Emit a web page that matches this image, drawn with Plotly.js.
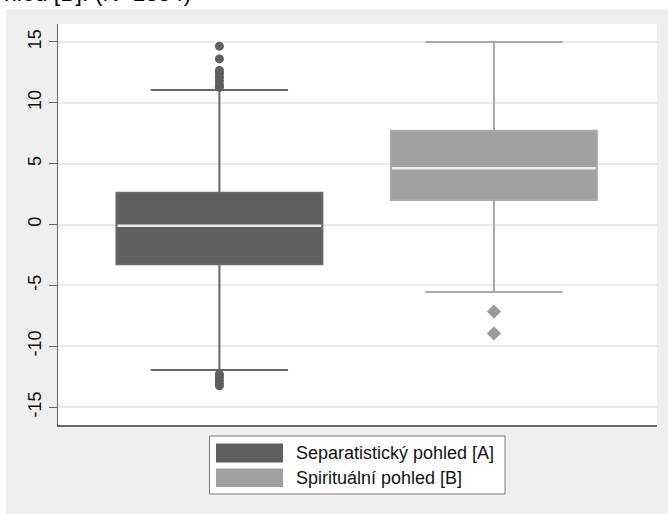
<!DOCTYPE html>
<html>
<head>
<meta charset="utf-8">
<script src="https://cdn.plot.ly/plotly-3.0.1.min.js"></script>
<style>
  html, body { margin: 0; padding: 0; background: #ffffff; width: 668px; height: 514px; overflow: hidden; }
  #bg { position: absolute; left: 6px; top: 9px; right: 0; bottom: 0; background: #efefef; }
  #chart { position: absolute; left: 0; top: 0; width: 668px; height: 514px; }
</style>
</head>
<body>
<div id="bg"></div>
<div id="chart"></div>
<script>
// ---- data ----
const categories = ['Separatistický pohled [A]', 'Spirituální pohled [B]'];
const positions = [0, 1];
const q1 = [-3.27, 2.01];
const median = [-0.10, 4.62];
const q3 = [2.61, 7.71];
const lowerWhisker = [-11.96, -5.55];
const upperWhisker = [11.05, 15.0];
const outliersA = [14.65, 13.6, 12.65, 12.4, 12.1, 11.8, 11.5, 11.27, -12.3, -12.55, -12.8, -13.05, -13.25];
const outliersB = [-7.15, -8.95];
const yTicks = [-15, -10, -5, 0, 5, 10, 15];
const titleFragment = 'hled [B]. (N=1854)';

// ---- styles ----
const fills = ['#5f5f5f', '#a0a0a0'];
const lines = ['#686868', '#a8a8a8'];
const markerColors = ['#5f5f5f', '#9a9a9a'];
const markerSymbols = ['circle', 'diamond'];
const markerSizes = [9, 11];
const boxWidth = 0.75;
const FONT = '"Liberation Sans", Arial, sans-serif';

const outliers = [outliersA, outliersB];
const traces = [];
categories.forEach((name, i) => {
  traces.push({
    type: 'box',
    name: name,
    x: [positions[i]],
    q1: [q1[i]], median: [median[i]], q3: [q3[i]],
    lowerfence: [lowerWhisker[i]], upperfence: [upperWhisker[i]],
    boxpoints: false,
    width: boxWidth,
    whiskerwidth: 0.667,
    fillcolor: fills[i],
    line: { color: lines[i], width: 2 },
    showlegend: false,
    hoverinfo: 'skip'
  });
});
categories.forEach((name, i) => {
  // median line in light colour, as in the original
  traces.push({
    type: 'scatter', mode: 'lines',
    x: [positions[i] - boxWidth / 2 + 0.004, positions[i] + boxWidth / 2 - 0.004],
    y: [median[i], median[i]],
    line: { color: '#eeeeee', width: 2.5 },
    showlegend: false, hoverinfo: 'skip'
  });
  traces.push({
    type: 'scatter', mode: 'markers',
    x: outliers[i].map(() => positions[i]),
    y: outliers[i],
    marker: { symbol: markerSymbols[i], size: markerSizes[i], color: markerColors[i], line: { width: 0 } },
    showlegend: false, hoverinfo: 'skip'
  });
});

// ---- custom legend (Stata style) ----
const L = 58, R = 657, T = 24, B = 425;
const px = v => (v - L) / (R - L);
const py = v => (B - v) / (B - T);
const shapes = [
  { type: 'rect', xref: 'paper', yref: 'paper', x0: px(209.5), x1: px(505), y0: py(436), y1: py(494),
    fillcolor: '#ffffff', line: { color: '#7a7a7a', width: 1 } }
];
const annotations = [
  { xref: 'paper', yref: 'paper', x: px(2), y: py(8), xanchor: 'left', yanchor: 'bottom',
    text: titleFragment, showarrow: false, font: { family: FONT, size: 23, color: '#000' } }
];
const swatchY = [[443.5, 462.5], [468.5, 487]];
const textY = [453, 478];
categories.forEach((name, i) => {
  shapes.push({ type: 'rect', xref: 'paper', yref: 'paper', x0: px(216), x1: px(283),
    y0: py(swatchY[i][0]), y1: py(swatchY[i][1]), fillcolor: fills[i], line: { width: 0 } });
  annotations.push({ xref: 'paper', yref: 'paper', x: px(294), y: py(textY[i]), xanchor: 'left', yanchor: 'middle',
    text: name, showarrow: false, font: { family: FONT, size: 18, color: '#111' } });
});

const layout = {
  width: 668, height: 514,
  margin: { l: L, r: 668 - R, t: T, b: 514 - B, pad: 0 },
  paper_bgcolor: 'rgba(0,0,0,0)',
  plot_bgcolor: '#ffffff',
  font: { family: FONT, size: 18, color: '#111' },
  showlegend: false,
  xaxis: {
    range: [-0.588, 1.594], showticklabels: false, ticks: '', showgrid: false, zeroline: false,
    showline: true, linecolor: '#6a6a6a', linewidth: 2, fixedrange: true
  },
  yaxis: {
    range: [-16.47, 16.47], tickvals: yTicks, ticktext: yTicks.map(String), tickangle: -90,
    ticks: 'outside', ticklen: 8, tickwidth: 1, tickcolor: '#6a6a6a',
    showgrid: true, gridcolor: '#ebebeb', gridwidth: 2, zeroline: false,
    showline: true, linecolor: '#6a6a6a', linewidth: 1.5,
    tickfont: { family: FONT, size: 18, color: '#111' }, fixedrange: true
  },
  shapes: shapes,
  annotations: annotations
};

Plotly.newPlot('chart', traces, layout, { displayModeBar: false, staticPlot: true });
</script>
</body>
</html>
